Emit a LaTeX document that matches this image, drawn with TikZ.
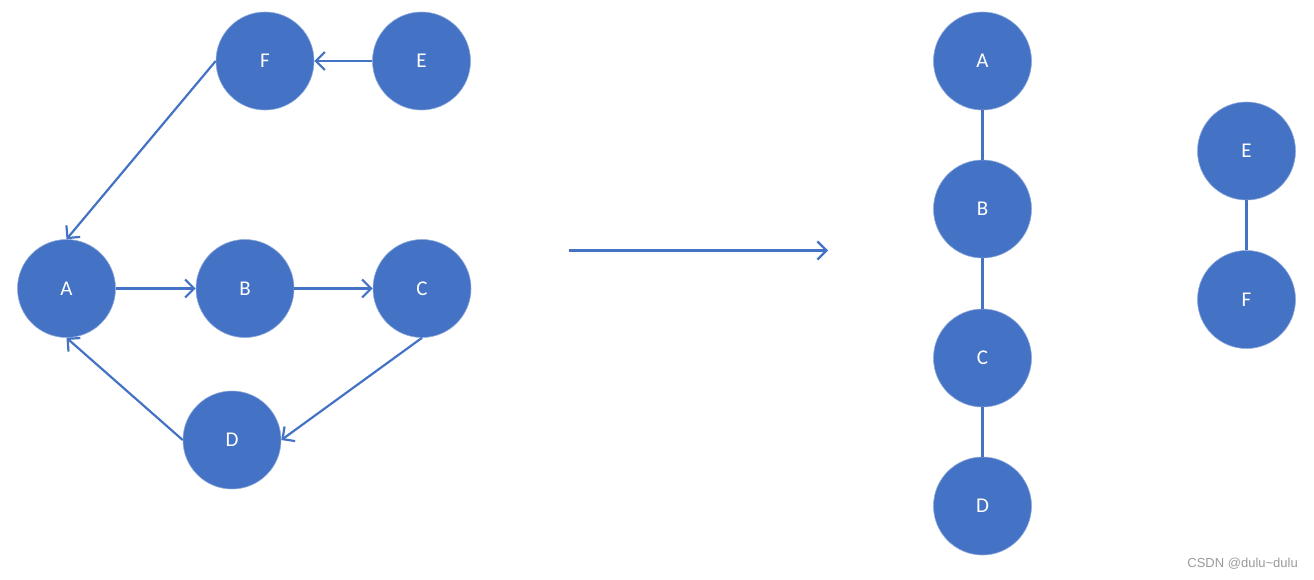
\documentclass[tikz,border=0pt]{standalone}
\usepackage{fontspec}
\setmainfont{Carlito}
\newfontfamily\wmfont{Liberation Sans}
\usetikzlibrary{arrows.meta}
\definecolor{obblue}{HTML}{4472C4}
\definecolor{wmgray}{HTML}{9A9A9A}
\tikzset{
  vert/.style={circle, minimum size=98pt, inner sep=0pt, fill=obblue, draw=obblue!60!white, line width=0.6pt, text=white, font=\fontsize{21}{21}\selectfont},
  conn/.style={draw=obblue, line width=2.2pt},
  arr/.style={conn, -{Straight Barb[length=9pt, width=18pt, line width=2.2pt]}}
}
\begin{document}
\begin{tikzpicture}[x=1pt, y=-1pt]
\useasboundingbox (0,0) rectangle (1314,579);
% left graph
\node[vert] (lF) at (265,61) {F};
\node[vert] (lE) at (421.5,61) {E};
\node[vert] (lA) at (66.5,288.5) {A};
\node[vert] (lB) at (245,288.5) {B};
\node[vert] (lC) at (422,288.5) {C};
\node[vert] (lD) at (232,440) {D};
\draw[arr] (lE.west) -- (lF.east);
\draw[arr] (lF.west) -- (lA.north);
\draw[arr] (lA.east) -- (lB.west);
\draw[arr] (lB.east) -- (lC.west);
\draw[arr] (lC.south) -- (lD.east);
\draw[arr] (lD.west) -- (lA.south);
% big arrow
\coordinate (s) at (569,250.5);
\coordinate (t) at (828,250.5);
\draw[arr] (s) -- (t);
% right graph
\node[vert] (rA) at (982.5,61) {A};
\node[vert] (rB) at (982.5,209) {B};
\node[vert] (rC) at (982.5,358) {C};
\node[vert] (rD) at (982.5,506) {D};
\node[vert] (rE) at (1246.5,151) {E};
\node[vert] (rF) at (1246.5,299.5) {F};
\draw[conn] (rA) -- (rB);
\draw[conn] (rB) -- (rC);
\draw[conn] (rC) -- (rD);
\draw[conn] (rE) -- (rF);
% watermark
\node[anchor=east, inner sep=0pt, text=wmgray, font=\wmfont\fontsize{13}{13}\selectfont] (wm) at (1298,563.5) {CSDN @dulu\textasciitilde dulu};
\end{tikzpicture}
\end{document}
